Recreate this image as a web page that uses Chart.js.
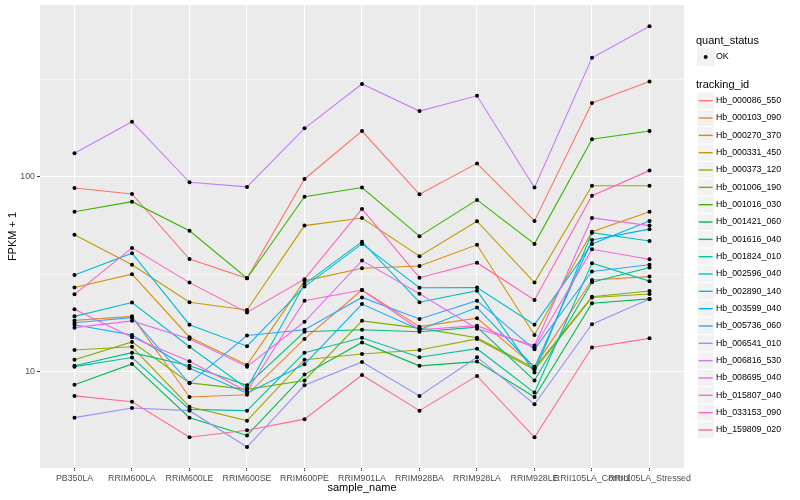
<!DOCTYPE html>
<html>
<head>
<meta charset="utf-8">
<script src="https://cdn.jsdelivr.net/npm/chart.js@4.4.0/dist/chart.umd.min.js"></script>
<style>
  html, body { margin: 0; padding: 0; background: #fff; }
  canvas { display: block; }
</style>
</head>
<body>
<canvas id="chart" width="800" height="500"></canvas>
<script>
const categories = ['PB350LA', 'RRIM600LA', 'RRIM600LE', 'RRIM600SE', 'RRIM600PE', 'RRIM901LA',
  'RRIM928BA', 'RRIM928LA', 'RRIM928LE', 'RRII105LA_Control', 'RRII105LA_Stressed'];

const trackingIds = ['Hb_000086_550', 'Hb_000103_090', 'Hb_000270_370', 'Hb_000331_450', 'Hb_000373_120',
  'Hb_001006_190', 'Hb_001016_030', 'Hb_001421_060', 'Hb_001616_040', 'Hb_001824_010',
  'Hb_002596_040', 'Hb_002890_140', 'Hb_003599_040', 'Hb_005736_060', 'Hb_006541_010',
  'Hb_006816_530', 'Hb_008695_040', 'Hb_015807_040', 'Hb_033153_090', 'Hb_159809_020'];

const lineColors = ['#F8766D', '#EA8331', '#D89000', '#C09B00', '#A3A500', '#7CAE00', '#39B600', '#00BB4E',
  '#00BF7D', '#00C1A3', '#00BFC4', '#00BAE0', '#00B0F6', '#35A2FF', '#9590FF', '#C77CFF',
  '#E76BF3', '#FA62DB', '#FF62BC', '#FF6C91'];

// FPKM + 1, one array per tracking_id, same order as categories
const hb000086 = [87.5, 81.5, 37.8, 30.1, 97.3, 171.5, 81.2, 117, 59.3, 239, 308];
const hb000103 = [18.3, 19.2, 7.4, 7.6, 14.7, 26.2, 17.0, 18.8, 10.6, 29.5, 30.7];
const hb000270 = [27.0, 31.6, 15.0, 10.8, 29.2, 33.9, 34.8, 44.7, 15.4, 52.2, 66.1];
const hb000331 = [50.4, 35.3, 22.7, 20.7, 56.1, 61.4, 39.1, 59.1, 28.6, 89.9, 89.9];
const hb000373 = [12.9, 13.4, 6.6, 5.6, 11.5, 12.3, 12.9, 14.7, 10.2, 24.0, 25.0];
const hb001006 = [11.5, 14.2, 8.75, 8.1, 9.0, 18.2, 16.7, 14.9, 10.4, 24.2, 25.9];
const hb001016 = [66.1, 74.4, 52.8, 30.1, 78.9, 87.9, 49.5, 76.0, 45.2, 155.5, 171.5];
const hb001421 = [8.55, 10.95, 5.8, 4.7, 9.65, 14.1, 10.7, 11.25, 7.4, 22.4, 23.6];
const hb001616 = [10.7, 12.5, 10.7, 8.5, 16.0, 16.4, 16.0, 16.9, 9.0, 28.7, 34.2];
const hb001824 = [10.6, 11.8, 6.4, 6.3, 12.5, 14.9, 11.85, 13.1, 7.8, 36.0, 29.1];
const hb002596 = [19.2, 22.6, 13.4, 8.2, 28.1, 46.4, 22.7, 26.0, 9.9, 51.6, 46.8];
const hb002890 = [31.3, 40.5, 17.4, 13.5, 27.3, 45.2, 26.9, 27.0, 17.4, 45.2, 59.3];
const hb003599 = [17.4, 15.4, 10.4, 7.75, 10.9, 22.2, 16.4, 21.3, 10.5, 47.3, 53.8];
const hb005736 = [17.8, 18.9, 8.7, 15.3, 16.4, 24.0, 18.6, 23.1, 13.0, 32.6, 35.3];
const hb006541 = [5.8, 6.5, 6.3, 4.1, 8.5, 11.2, 7.5, 11.85, 6.8, 17.5, 23.6];
const hb006816 = [131.8, 191.5, 93.6, 88.6, 177, 299, 217, 260, 87.9, 407, 591];
const hb008695 = [16.8, 18.2, 14.7, 10.6, 18.0, 37.1, 25.1, 16.6, 13.6, 61.4, 56.1];
const hb015807 = [20.9, 15.0, 11.3, 7.9, 23.1, 26.2, 16.4, 17.2, 13.3, 42.4, 37.7];
const hb033153 = [24.9, 43.1, 28.6, 20.1, 29.8, 68.3, 30.3, 36.2, 23.3, 79.9, 107.4];
const hb159809 = [7.5, 7.0, 4.6, 5.0, 5.7, 9.6, 6.3, 9.5, 4.6, 13.3, 14.8];

const seriesValues = [hb000086, hb000103, hb000270, hb000331, hb000373, hb001006, hb001016, hb001421,
  hb001616, hb001824, hb002596, hb002890, hb003599, hb005736, hb006541, hb006816, hb008695,
  hb015807, hb033153, hb159809];

const yMajorTicks = [10, 100];
const yMinorTicks = [3.162, 31.62, 316.2];
const yMin = 3.2;
const yMax = 760;

const FONT = '"Liberation Sans", Arial, sans-serif';

const panelBackground = {
  id: 'panelBackground',
  beforeDraw(chart) {
    const { ctx, chartArea: a } = chart;
    ctx.save();
    ctx.fillStyle = '#EBEBEB';
    ctx.fillRect(a.left, a.top, a.right - a.left, a.bottom - a.top);
    ctx.restore();
  }
};

// points go on top of every line, like geom_point after geom_line
const blackPoints = {
  id: 'blackPoints',
  afterDatasetsDraw(chart) {
    const ctx = chart.ctx;
    ctx.save();
    ctx.fillStyle = '#000';
    chart.data.datasets.forEach((ds, i) => {
      chart.getDatasetMeta(i).data.forEach(pt => {
        ctx.beginPath();
        ctx.arc(pt.x, pt.y, 2, 0, Math.PI * 2);
        ctx.fill();
      });
    });
    ctx.restore();
  }
};

const sideLegend = {
  id: 'sideLegend',
  afterDraw(chart) {
    const ctx = chart.ctx;
    const x0 = 697, key = 17.33;
    ctx.save();
    ctx.textBaseline = 'middle';
    ctx.fillStyle = '#000';
    ctx.font = '11px ' + FONT;
    ctx.fillText('quant_status', 696, 41);

    ctx.fillStyle = '#F2F2F2';
    ctx.fillRect(x0, 57 - key / 2, key, key);
    ctx.fillStyle = '#000';
    ctx.beginPath();
    ctx.arc(x0 + key / 2, 57, 2, 0, Math.PI * 2);
    ctx.fill();
    ctx.font = '8.8px ' + FONT;
    ctx.fillText('OK', 716, 57);

    ctx.font = '11px ' + FONT;
    ctx.fillText('tracking_id', 696, 84.5);

    trackingIds.forEach((id, i) => {
      const cy = 100.7 + i * key;
      ctx.fillStyle = '#F2F2F2';
      ctx.fillRect(x0, cy - key / 2, key, key);
      ctx.strokeStyle = '#FFFFFF';
      ctx.lineWidth = 1;
      ctx.strokeRect(x0, cy - key / 2, key, key);
      ctx.strokeStyle = lineColors[i];
      ctx.lineWidth = 1.4;
      ctx.beginPath();
      ctx.moveTo(x0 + 1.7, cy);
      ctx.lineTo(x0 + key - 1.7, cy);
      ctx.stroke();
      ctx.fillStyle = '#000';
      ctx.font = '8.8px ' + FONT;
      ctx.fillText(id, 716, cy);
    });
    ctx.restore();
  }
};

const datasets = seriesValues.map((vals, i) => ({
  label: trackingIds[i],
  data: vals.map((v, j) => ({ x: j, y: v })),
  borderColor: lineColors[i],
  backgroundColor: lineColors[i],
  borderWidth: 1.1,
  pointRadius: 0,
  tension: 0,
  fill: false,
  order: seriesValues.length - i
}));

new Chart(document.getElementById('chart').getContext('2d'), {
  type: 'line',
  data: { datasets },
  options: {
    responsive: false,
    animation: false,
    devicePixelRatio: 1,
    layout: { padding: { left: 0, right: 116, top: 5, bottom: 0 } },
    plugins: { legend: { display: false }, tooltip: { enabled: false } },
    scales: {
      x: {
        type: 'linear',
        min: -0.6,
        max: categories.length - 0.4,
        afterBuildTicks: s => { s.ticks = categories.map((_, i) => ({ value: i })); },
        afterFit: s => { s.height = 32; s.paddingLeft = 0; s.paddingRight = 0; },
        ticks: {
          callback: v => categories[v] !== undefined ? categories[v] : '',
          autoSkip: false, maxRotation: 0, minRotation: 0,
          color: '#4D4D4D', font: { family: FONT, size: 8.8 }, padding: 2
        },
        grid: { color: '#FFFFFF', lineWidth: 1.1, tickColor: '#333333', tickLength: 3, tickWidth: 1 },
        border: { display: false },
        title: {
          display: true, text: 'sample_name', color: '#000',
          font: { family: FONT, size: 11 }, padding: { top: 0, bottom: 5 }
        }
      },
      y: {
        type: 'logarithmic',
        min: yMin,
        max: yMax,
        afterBuildTicks: s => {
          s.ticks = yMinorTicks.concat(yMajorTicks).sort((a, b) => a - b).map(v => ({ value: v }));
        },
        afterFit: s => { s.width = 40; s.paddingTop = 0; s.paddingBottom = 0; },
        ticks: {
          callback: v => yMajorTicks.includes(v) ? String(v) : '',
          autoSkip: false,
          color: '#4D4D4D', font: { family: FONT, size: 8.8 }, padding: 2
        },
        grid: {
          color: '#FFFFFF',
          lineWidth: c => (c.tick && yMajorTicks.includes(c.tick.value)) ? 1.1 : 0.55,
          tickColor: c => (c.tick && yMajorTicks.includes(c.tick.value)) ? '#333333' : 'rgba(0,0,0,0)',
          tickLength: 3,
          tickWidth: 1
        },
        border: { display: false },
        title: {
          display: true, text: 'FPKM + 1', color: '#000',
          font: { family: FONT, size: 11 }, padding: { top: 6, bottom: 0 }
        }
      }
    }
  },
  plugins: [panelBackground, blackPoints, sideLegend]
});
</script>
</body>
</html>
